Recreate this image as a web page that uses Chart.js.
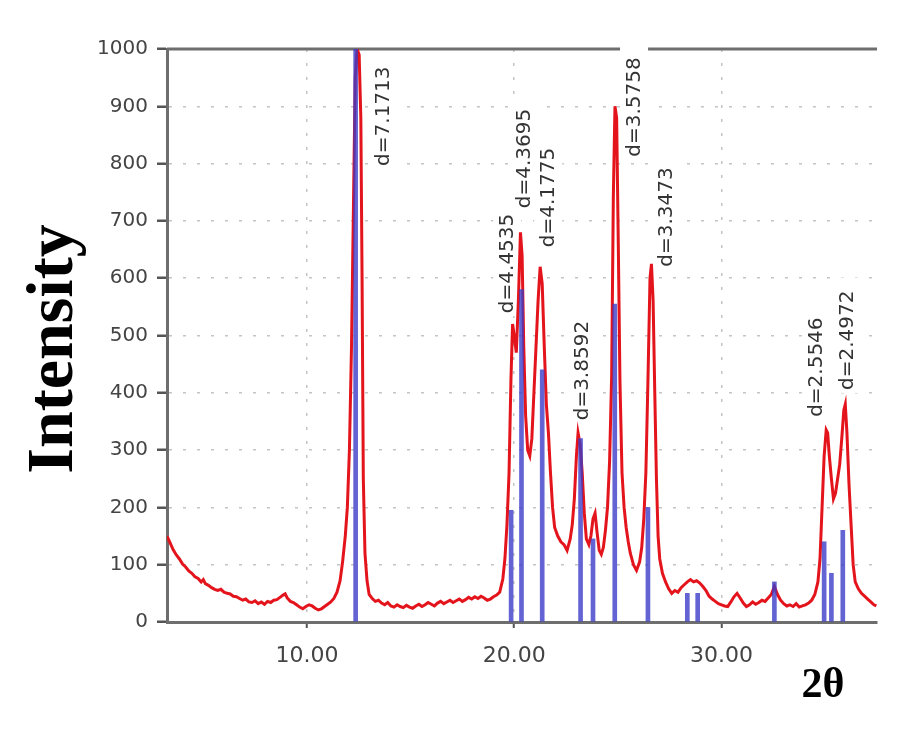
<!DOCTYPE html>
<html>
<head>
<meta charset="utf-8">
<script src="https://cdn.jsdelivr.net/npm/chart.js@4/dist/chart.umd.min.js"></script>
<style>
  body { margin: 0; background: #fff; }
  canvas { display: block; }
</style>
</head>
<body>
<canvas id="xrd" width="897" height="732"></canvas>
<script>
// XRD pattern (2theta / intensity)
const twoTheta = [
  3.25, 3.4, 3.55, 3.7, 3.85, 4.0, 4.15, 4.3, 4.45, 4.6, 4.75, 4.9, 5.0, 5.1, 5.25, 5.4, 5.55, 5.7, 5.85, 6.0,
  6.15, 6.3, 6.45, 6.6, 6.75, 6.9, 7.05, 7.2, 7.35, 7.5, 7.65, 7.8, 7.95, 8.1, 8.25, 8.4, 8.55, 8.7, 8.85, 8.95,
  9.05, 9.2, 9.35, 9.5, 9.65, 9.8, 9.95, 10.1, 10.25, 10.4, 10.55, 10.7, 10.85, 11.0, 11.15, 11.3, 11.45, 11.6, 11.72, 11.85,
  11.95, 12.05, 12.15, 12.25, 12.33, 12.42, 12.52, 12.6, 12.66, 12.72, 12.8, 12.9, 13.0, 13.15, 13.3, 13.45, 13.6, 13.75, 13.9, 14.05,
  14.2, 14.35, 14.5, 14.65, 14.8, 14.95, 15.1, 15.25, 15.4, 15.55, 15.7, 15.85, 16.0, 16.15, 16.3, 16.45, 16.6, 16.75, 16.9, 17.05,
  17.2, 17.35, 17.5, 17.65, 17.8, 17.95, 18.1, 18.25, 18.4, 18.55, 18.7, 18.85, 19.0, 19.15, 19.3, 19.45, 19.55, 19.65, 19.75, 19.84,
  19.92, 20.0, 20.1, 20.2, 20.3, 20.38, 20.46, 20.55, 20.65, 20.75, 20.85, 20.95, 21.05, 21.15, 21.25, 21.35, 21.45, 21.55, 21.65, 21.75,
  21.85, 21.95, 22.1, 22.25, 22.4, 22.55, 22.7, 22.8, 22.9, 23.0, 23.08, 23.18, 23.28, 23.38, 23.48, 23.6, 23.7, 23.8, 23.9, 24.0,
  24.1, 24.2, 24.3, 24.4, 24.5, 24.6, 24.7, 24.78, 24.86, 24.94, 25.02, 25.1, 25.2, 25.3, 25.4, 25.5, 25.6, 25.75, 25.9, 26.05,
  26.15, 26.25, 26.35, 26.45, 26.55, 26.62, 26.7, 26.78, 26.86, 26.94, 27.02, 27.15, 27.3, 27.45, 27.6, 27.75, 27.9, 28.05, 28.2, 28.35,
  28.5, 28.65, 28.8, 28.95, 29.1, 29.25, 29.4, 29.55, 29.7, 29.85, 30.0, 30.15, 30.3, 30.45, 30.6, 30.75, 30.9, 31.05, 31.2, 31.35,
  31.5, 31.65, 31.8, 31.95, 32.1, 32.25, 32.4, 32.55, 32.7, 32.85, 33.0, 33.15, 33.3, 33.45, 33.6, 33.75, 33.9, 34.05, 34.2, 34.35,
  34.5, 34.65, 34.75, 34.85, 34.95, 35.05, 35.12, 35.2, 35.3, 35.4, 35.5, 35.6, 35.7, 35.8, 35.9, 35.97, 36.05, 36.15, 36.25, 36.35,
  36.45, 36.6, 36.75, 36.9, 37.05, 37.2, 37.35, 37.47
];
const intensity = [
  150, 138, 126, 117, 110, 101, 96, 89, 85, 79, 76, 70, 74, 67, 64, 60, 57, 55, 57, 52,
  50, 49, 45, 44, 41, 38, 40, 35, 34, 37, 32, 35, 31, 36, 34, 38, 39, 43, 47, 49,
  42, 36, 34, 30, 26, 23, 27, 30, 28, 24, 21, 23, 27, 31, 35, 41, 52, 72, 105, 150,
  200, 300, 480, 740, 950, 1000, 990, 880, 600, 250, 120, 72, 48, 41, 36, 38, 33, 30, 34, 28,
  26, 30, 27, 25, 29, 26, 24, 28, 31, 27, 30, 34, 31, 28, 33, 36, 32, 35, 38, 34,
  37, 40, 36, 39, 43, 40, 44, 41, 45, 42, 38, 40, 44, 47, 52, 75, 110, 170, 260, 420,
  520, 500, 470, 560, 680, 640, 480, 360, 300, 290, 320, 400, 480, 560, 620, 590, 480, 380, 330, 260,
  200, 165, 150, 140, 135, 125, 145, 170, 215, 290, 330, 310, 260, 190, 145, 135, 150, 180, 190, 155,
  125, 118, 130, 160, 200, 280, 430, 740, 900, 880, 660, 420, 260, 200, 165, 140, 120, 100, 90, 105,
  130, 180, 260, 420, 600, 625, 560, 400, 250, 150, 110, 85, 70, 58, 50, 55, 52, 60, 65, 70,
  74, 70, 72, 68, 62, 55, 45, 40, 36, 32, 30, 28, 27, 35, 44, 50, 42, 33, 27, 30,
  35, 31, 34, 38, 36, 42, 48, 62, 48, 38, 32, 28, 30, 27, 32, 26, 28, 30, 33, 38,
  48, 70, 110, 200, 290, 335, 330, 290, 250, 215, 225, 250, 275, 320, 370, 380, 330, 240, 170, 100,
  70, 58, 50, 45, 40, 35, 30, 28
];

// reference pattern sticks
const refTheta = [12.35, 19.85, 20.35, 21.35, 23.2, 23.8, 24.85, 26.45, 28.35, 28.85, 32.55, 34.95, 35.3, 35.85];
const refIntensity = [1000, 195, 580, 440, 320, 145, 555, 200, 50, 50, 70, 140, 85, 160];

// d-spacing labels: where they sit (2theta, intensity at the label foot)
const peakLabels = ['d=7.1713', 'd=4.4535', 'd=4.3695', 'd=4.1775', 'd=3.8592', 'd=3.5758', 'd=3.3473', 'd=2.5546', 'd=2.4972'];
const labelTheta = [13.66, 19.66, 20.48, 21.64, 23.25, 25.78, 27.33, 34.55, 36.05];
const labelBase = [796, 539, 722, 654, 352, 812, 620, 358, 405];

const xTickValues = [10, 20, 30];
const yTitle = 'Intensity';
const xTitle = '2θ';

const axisGray = '#6e6e6e';
const gridGray = '#c4c4c4';

//Etiquetas y marco superior
const labelsPlugin = {
  id: 'labels',
  beforeDatasetsDraw(chart) {
    const {ctx, chartArea, scales: {x, y}} = chart;
    ctx.save();
    // top frame line
    ctx.strokeStyle = axisGray;
    ctx.lineWidth = 3;
    ctx.beginPath();
    ctx.moveTo(chartArea.left, chartArea.top);
    ctx.lineTo(chartArea.right, chartArea.top);
    ctx.stroke();
    // rotated d labels on white boxes
    ctx.font = '20px "DejaVu Sans"';
    ctx.textBaseline = 'middle';
    ctx.textAlign = 'left';
    peakLabels.forEach((txt, i) => {
      const px = x.getPixelForValue(labelTheta[i]);
      const py = y.getPixelForValue(labelBase[i]);
      const w = ctx.measureText(txt).width;
      ctx.save();
      ctx.translate(px, py);
      ctx.rotate(-Math.PI / 2);
      ctx.fillStyle = '#fff';
      ctx.fillRect(-3, -14, w + 16, 28);
      ctx.fillStyle = '#333';
      ctx.fillText(txt, 0, 1);
      ctx.restore();
    });
    ctx.restore();
  },
  afterDraw(chart) {
    const {ctx} = chart;
    ctx.save();
    ctx.fillStyle = '#000';
    ctx.font = 'bold 66px "Liberation Serif"';
    ctx.textAlign = 'center';
    ctx.textBaseline = 'alphabetic';
    ctx.translate(72, 349);
    ctx.rotate(-Math.PI / 2);
    ctx.fillText(yTitle, 0, 0);
    ctx.restore();
    ctx.save();
    ctx.fillStyle = '#000';
    ctx.font = 'bold 42px "Liberation Serif"';
    ctx.textAlign = 'center';
    ctx.textBaseline = 'alphabetic';
    ctx.fillText(xTitle, 823, 697);
    ctx.restore();
  }
};

const data_xrd = {
  datasets: [{
    type: 'bar',
    label: 'reference',
    data: refTheta.map((t, i) => ({x: t, y: refIntensity[i]})),
    backgroundColor: 'rgba(60, 60, 200, 0.8)',
    borderWidth: 0,
    barThickness: 4,
    grouped: false
  }, {
    type: 'line',
    label: 'sample',
    data: twoTheta.map((t, i) => ({x: t, y: intensity[i]})),
    borderColor: '#e3141c',
    borderWidth: 3,
    pointRadius: 0,
    tension: 0,
    fill: false
  }]
};

new Chart(document.getElementById('xrd'), {
  type: 'line',
  data: data_xrd,
  options: {
    responsive: false,
    animation: false,
    layout: {padding: {top: 49, right: 20, left: 0, bottom: 0}},
    plugins: {legend: {display: false}, tooltip: {enabled: false}},
    scales: {
      x: {
        type: 'linear',
        min: 3.25,
        max: 37.5,
        offset: false,
        afterFit: s => { s.height = 110; },
        afterBuildTicks: s => { s.ticks = xTickValues.map(v => ({value: v})); },
        ticks: {
          callback: v => Number(v).toFixed(2),
          font: {family: 'DejaVu Sans', size: 22},
          color: '#444',
          padding: 15,
          maxRotation: 0
        },
        grid: {color: gridGray, lineWidth: 1.5, tickLength: 6, tickColor: '#555', tickWidth: 2, offset: false},
        border: {color: axisGray, width: 3, dash: [3, 11]}
      },
      y: {
        min: 0,
        max: 1000,
        afterFit: s => { s.width = 167; },
        ticks: {
          stepSize: 100,
          callback: v => String(v),
          font: {family: 'DejaVu Sans', size: 20},
          color: '#444',
          padding: 9
        },
        grid: {color: gridGray, lineWidth: 1.5, tickLength: 10, tickColor: '#555', tickWidth: 2.5},
        border: {color: axisGray, width: 3, dash: [3, 11]}
      }
    }
  },
  plugins: [labelsPlugin]
});
</script>
</body>
</html>
